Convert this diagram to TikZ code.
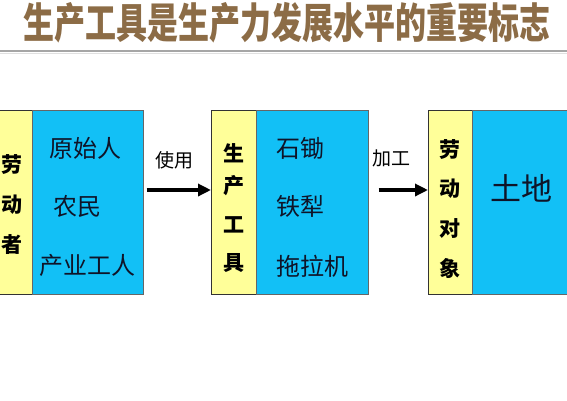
\documentclass[tikz,border=0pt]{standalone}
\usepackage{fontspec}
\newfontfamily\cjk{Noto Sans CJK SC}
\newfontfamily\cjkb{Noto Sans CJK SC Black}
\usetikzlibrary{arrows.meta}
\definecolor{ycol}{RGB}{255,255,153}
\definecolor{bcol}{RGB}{18,192,246}
\definecolor{tcol}{RGB}{140,108,70}
\definecolor{ink}{RGB}{15,20,40}
\tikzset{
  ybox/.style={draw=black!80, line width=0.8pt, fill=ycol, minimum width=44pt, minimum height=184pt, inner sep=0pt, anchor=north west},
  bbox/.style={draw=black!60, line width=0.6pt, fill=bcol, minimum height=184pt, inner sep=0pt, anchor=north west},
  ytxt/.style={font=\cjkb\fontsize{21pt}{21pt}\selectfont, text=black, inner sep=0pt},
  btxt/.style={font=\cjk\fontsize{24pt}{24pt}\selectfont, text=ink, inner sep=0pt},
  lbl/.style={font=\cjk\fontsize{19pt}{19pt}\selectfont, text=black, inner sep=0pt},
  ttl/.style={font=\cjkb\fontsize{31pt}{31pt}\selectfont, inner sep=0pt, yscale=1.35, transform shape},
  arr/.style={-{Triangle[length=13pt,width=12pt]}, line width=3.5pt}
}
\begin{document}
\begin{tikzpicture}[x=1pt,y=-1pt]
\useasboundingbox (0,0) rectangle (567,400);
\clip (0,0) rectangle (567,400);
\fill[white] (0,0) rectangle (567,400);
% title
\node (title) [ttl, text=tcol] at (287,23) {生产工具是生产力发展水平的重要标志};
\draw[line width=1.2pt, black!35] (0,51) coordinate (la) -- (567,51) coordinate (lb);
\draw[line width=1pt, black!12] (0,53.5) -- (567,53.5);
% boxes
\node (y1) [ybox] at (-12,110) {};
\node (b1) [bbox, minimum width=111pt] at (32,110) {};
\node (y2) [ybox, minimum width=45pt] at (211,110) {};
\node (b2) [bbox, minimum width=112pt] at (256,110) {};
\node (y3) [ybox] at (428,110) {};
\node (b3) [bbox, minimum width=130pt] at (472,110) {};
% yellow text
\node[ytxt] at (12,165) {劳};
\node[ytxt] at (12,205) {动};
\node[ytxt] at (12,245) {者};
\node[ytxt] at (234,153) {生};
\node[ytxt] at (234,186) {产};
\node[ytxt] at (234,225) {工};
\node[ytxt] at (234,263) {具};
\node[ytxt] at (450,150) {劳};
\node[ytxt] at (450,189) {动};
\node[ytxt] at (450,229) {对};
\node[ytxt] at (450,268) {象};
% blue text
\node[btxt] at (85,148) {原始人};
\node[btxt] at (77,206) {农民};
\node[btxt] at (87,265) {产业工人};
\node[btxt] at (300,148) {石锄};
\node[btxt] at (300,206) {铁犁};
\node[btxt] at (312,266) {拖拉机};
\node[btxt, font=\cjk\fontsize{31pt}{31pt}\selectfont] at (521,188) {土地};
% arrows
\draw[arr] (b1.east |- 0,190) ++(3,0) coordinate (a1s) -- (y2.west |- 0,190);
\draw[arr] (b2.east |- 0,190) ++(10,0) coordinate (a2s) -- (y3.west |- 0,190);
\node[lbl] (u1) at (174,160) {使用};
\node[lbl] (u2) at (391,158) {加工};
\end{tikzpicture}
\end{document}
